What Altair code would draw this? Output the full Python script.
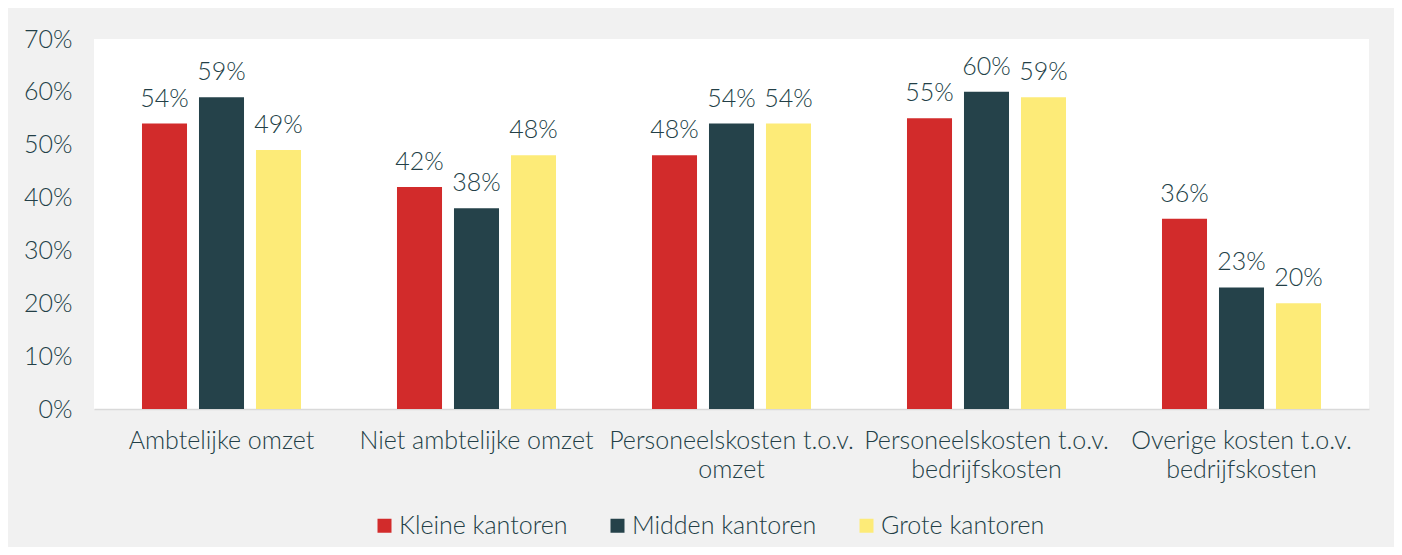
import altair as alt
import pandas as pd

categories = [
    "Ambtelijke omzet",
    "Niet ambtelijke omzet",
    "Personeelskosten t.o.v.\nomzet",
    "Personeelskosten t.o.v.\nbedrijfskosten",
    "Overige kosten t.o.v.\nbedrijfskosten",
]
series = ["Kleine kantoren", "Midden kantoren", "Grote kantoren"]
kleine = [0.54, 0.42, 0.48, 0.55, 0.36]
midden = [0.59, 0.38, 0.54, 0.60, 0.23]
grote = [0.49, 0.48, 0.54, 0.59, 0.20]
colors = ["#d22b2b", "#25424a", "#fdeb78"]
y_ticks = [0, 0.1, 0.2, 0.3, 0.4, 0.5, 0.6, 0.7]

rows = []
for name, vals in zip(series, [kleine, midden, grote]):
    for c, v in zip(categories, vals):
        rows.append({"categorie": c, "groep": name, "waarde": v})
df = pd.DataFrame(rows)

FONT = "Lato"
WEIGHT = 300
SIZE = 25
TXT = "#233f47"

x = alt.X(
    "categorie:N",
    sort=categories,
    scale=alt.Scale(paddingInner=0, paddingOuter=0),
    axis=alt.Axis(
        title=None,
        labelAngle=0,
        labelExpr="split(datum.label, '\\n')",
        labelFontSize=SIZE,
        labelFont=FONT,
        labelFontWeight=WEIGHT,
        labelColor=TXT,
        labelPadding=19,
        labelLineHeight=29,
        ticks=False,
        domainColor="#d9d9d9",
        domainWidth=1.5,
        labelLimit=400,
    ),
)
y = alt.Y(
    "waarde:Q",
    scale=alt.Scale(domain=[0, 0.7]),
    axis=alt.Axis(
        title=None,
        values=y_ticks,
        format=".0%",
        labelFontSize=SIZE,
        labelFont=FONT,
        labelFontWeight=WEIGHT,
        labelColor=TXT,
        labelPadding=22,
        ticks=False,
        domain=False,
        grid=False,
    ),
)
xoff = alt.XOffset(
    "groep:N",
    sort=series,
    scale=alt.Scale(paddingInner=0.21, paddingOuter=0.842),
)

bars = alt.Chart(df).mark_bar().encode(
    x=x,
    y=y,
    xOffset=xoff,
    color=alt.Color(
        "groep:N",
        sort=series,
        scale=alt.Scale(domain=series, range=colors),
        legend=alt.Legend(
            title=None,
            orient="none",
            direction="horizontal",
            legendX=278,
            legendY=474,
            symbolType="square",
            symbolSize=196,
            symbolStrokeWidth=0,
            labelFontSize=SIZE,
            labelFont=FONT,
            labelFontWeight=WEIGHT,
            labelColor=TXT,
            labelOffset=2,
            columnPadding=37,
            labelLimit=400,
        ),
    ),
)

labels = alt.Chart(df).mark_text(
    baseline="alphabetic", dy=-17, fontSize=SIZE, font=FONT, fontWeight=WEIGHT, color=TXT
).encode(
    x=x,
    y=y,
    xOffset=xoff,
    text=alt.Text("waarde:Q", format=".0%"),
)

chart = (
    alt.layer(bars, labels)
    .properties(
        width=1275,
        height=370,
        background="#f1f1f1",
        autosize=alt.AutoSizeParams(type="none"),
        padding={"left": 86, "top": 31, "right": 25, "bottom": 138},
    )
    .configure_view(fill="white", strokeWidth=0)
)

chart.save("out.html", embed_options={"renderer": "svg", "actions": False})
